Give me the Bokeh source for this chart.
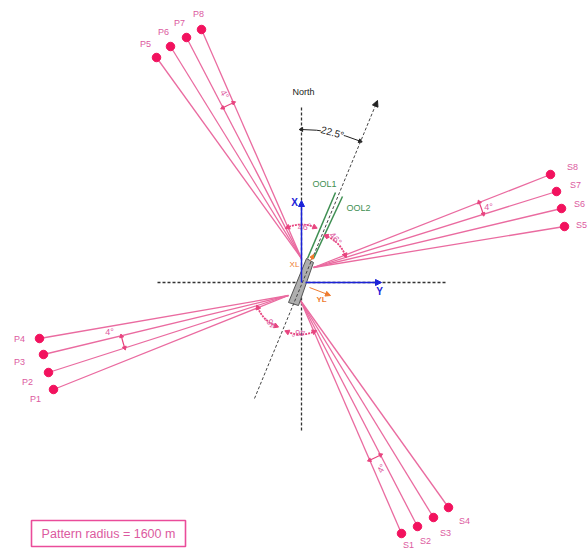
from math import sin, cos, radians
from bokeh.plotting import figure
from bokeh.models import Arrow, NormalHead
from bokeh.embed import file_html
from bokeh.resources import INLINE
from bokeh.core.properties import value

# All geometry: chart units east (x) / north (y) of the crossing of the X and Y axes
p_names = ["P1", "P2", "P3", "P4", "P5", "P6", "P7", "P8"]
p_x = [-248, -253, -258, -262, -145, -131, -115, -100]
p_y = [-107, -90, -72, -56, 225, 236, 245, 253]
s_names = ["S1", "S2", "S3", "S4", "S5", "S6", "S7", "S8"]
s_x = [100, 116, 132, 147, 263, 260, 255, 249]
s_y = [-251, -244, -235, -225, 56, 74, 91, 108]
p_label_x = [-266, -274, -282, -282, -156, -138, -122, -103]
p_label_y = [-116, -99, -79, -56, 239, 251, 260, 269]
s_label_x = [107, 124, 144, 163, 280, 278, 274, 271]
s_label_y = [-262, -258, -250, -238, 58, 79, 98, 116]

# fan origins on the vessel
fan_p_low = (-13, -13)
fan_p_up = (0, 24)
fan_s_up = (12, 15)
fan_s_low = (-1, -18)

axis_h = [-144, 0, 144]
axis_v = [-148, 177]
course_x = [-47, 76]
course_y = [-116, 182]
ship_x = [5, 12, -3, -13]
ship_y = [24, 20, -23, -20]
ool1_x = [6, 34]
ool1_y = [24, 90]
ool2_x = [12, 41]
ool2_y = [24, 86]
x_axis_y = [0, 82]
y_axis_x = [4, 80]
heading = 22.5

PINK = "#ea6ba0"
ARC = "#e8447f"
RED = "#f2125e"
LABEL = "#dc5aa0"
BLUE = "#1b22d8"
GREEN = "#3e8f52"
ORANGE = "#ee7a2e"
FONT = value("Liberation Sans")

p = figure(width=588, height=549, x_range=(-301, 287), y_range=(-267, 282),
           output_backend="svg", toolbar_location=None, min_border=0,
           outline_line_color=None, x_axis_type=None, y_axis_type=None)
p.xgrid.visible = False
p.ygrid.visible = False


def head(color, size=6):
    return NormalHead(size=size, fill_color=color, line_color=color)


def label(x, y, t, color, size="9px", angle=0.0, style="normal", bg=None):
    p.text([x], [y], text=[t], text_color=color, text_font=FONT, text_font_size=size,
           text_align="center", text_baseline="middle", angle=[radians(angle)],
           text_font_style=style, background_fill_color=bg)


# black dashed axes
p.line(axis_h, [0, 0, 0], line_color="#333333", line_width=1.3, line_dash="3 2")
p.line([0, 0], axis_v, line_color="#333333", line_width=1.3, line_dash="3 2")
p.add_layout(Arrow(x_start=course_x[0], y_start=course_y[0], x_end=course_x[1], y_end=course_y[1],
                   line_color="#444444", line_width=1, line_dash="3 2", end=head("#222222", 6)))

# pink fans
for names, xs, ys in [(p_names, p_x, p_y), (s_names, s_x, s_y)]:
    for n, x, y in zip(names, xs, ys):
        i = int(n[1:])
        if n[0] == "P":
            o = fan_p_low if i <= 4 else fan_p_up
        else:
            o = fan_s_low if i <= 4 else fan_s_up
        p.line([o[0], x], [o[1], y], line_color=PINK, line_width=1.3)

p.scatter(p_x + s_x, p_y + s_y, size=8.5, fill_color=RED, line_color=RED)
for n, x, y in zip(p_names + s_names, p_label_x + s_label_x, p_label_y + s_label_y):
    label(x, y, n, LABEL)

# OOL lines
p.line(ool1_x, ool1_y, line_color=GREEN, line_width=1.5)
p.line(ool2_x, ool2_y, line_color=GREEN, line_width=1.5)
label(23, 99, "OOL1", GREEN, "9px")
label(57, 75, "OOL2", GREEN, "9px")

# X / Y axes in blue
p.add_layout(Arrow(x_start=0, y_start=x_axis_y[0], x_end=0, y_end=x_axis_y[1],
                   line_color=BLUE, line_width=1.5, end=head(BLUE, 6)))
p.add_layout(Arrow(x_start=y_axis_x[0], y_start=0, x_end=y_axis_x[1], y_end=0,
                   line_color=BLUE, line_width=1.5, end=head(BLUE, 6)))
label(-7, 80, "X", BLUE, "10px", style="bold")
label(78, -9, "Y", BLUE, "10px", style="bold")

# vessel
p.patch(ship_x, ship_y, fill_color="#aeaeae", line_color="#555555", line_width=1)

# vessel axes
p.add_layout(Arrow(x_start=8, y_start=-5, x_end=29, y_end=-13,
                   line_color=ORANGE, line_width=1, end=head(ORANGE, 5)))
p.add_layout(Arrow(x_start=9, y_start=22, x_end=12, y_end=28,
                   line_color=ORANGE, line_width=1, end=head(ORANGE, 4)))
label(-7, 18, "XL", ORANGE, "8px")
label(20, -17, "YL", ORANGE, "8px", style="bold")

label(2, 191, "North", "#222222", "9px")


def arc(o, a_from, a_to, r, color, width=1.0, dash="solid", msize=4):
    """Arc around origin o; angles in degrees clockwise from north."""
    p.arc([o[0]], [o[1]], radius=r, start_angle=radians(90 - a_to), end_angle=radians(90 - a_from),
          line_color=color, line_width=width, line_dash=dash)
    for a, sgn in ((a_from, -1), (a_to, 1)):
        x = o[0] + r * sin(radians(a))
        y = o[1] + r * cos(radians(a))
        tang = radians(-a if sgn > 0 else 180 - a)
        p.scatter([x], [y], marker="triangle", size=msize, angle=[tang - radians(90)],
                  fill_color=color, line_color=color)


# heading arc
arc((0, 0), 0, heading, 153, "#222222", 1)
label(31, 150, "22.5°", "#222222", "10px", angle=-15, bg="white")

# 46 degree arcs
arc(fan_p_up, -23.6, heading, 34, ARC, 1.8, "2 1", 5)
arc(fan_s_up, heading, 68.5, 34, ARC, 1.8, "2 1", 5)
arc(fan_p_low, 180 + heading, 180 + 68.3, 33, ARC, 1.8, "2 1", 5)
arc(fan_s_low, 156.6, 180 + heading, 34, ARC, 1.8, "2 1", 5)
label(3, 56, "46°", LABEL, "9px")
label(34, 44, "46°", LABEL, "9px", angle=-48)
label(-31, -40, "46°", LABEL, "9px", angle=125)
label(-3, -50, "46°", LABEL, "9px", angle=180)

# 4 degree arcs
arc(fan_p_up, -27.6, -23.6, 170, ARC, 1.2)
arc(fan_s_up, 68.5, 72.5, 178, ARC, 1.2)
arc(fan_p_low, 180 + 72.3, 180 + 76.3, 172, ARC, 1.2)
arc(fan_s_low, 152.6, 156.6, 174, ARC, 1.2)
label(-77, 188, "4°", LABEL, "9px", angle=-60)
label(187, 76, "4°", LABEL, "9px")
label(-192, -49, "4°", LABEL, "9px")
label(80, -186, "4°", LABEL, "9px", angle=60)

# pattern radius box
p.quad(left=[-270], right=[-116], top=[-238], bottom=[-264], fill_color=None,
       line_color="#ea4c9a", line_width=1.6)
label(-193, -251, "Pattern radius = 1600 m", LABEL, "12.5px")

open("out.html", "w").write(file_html(p, INLINE))
